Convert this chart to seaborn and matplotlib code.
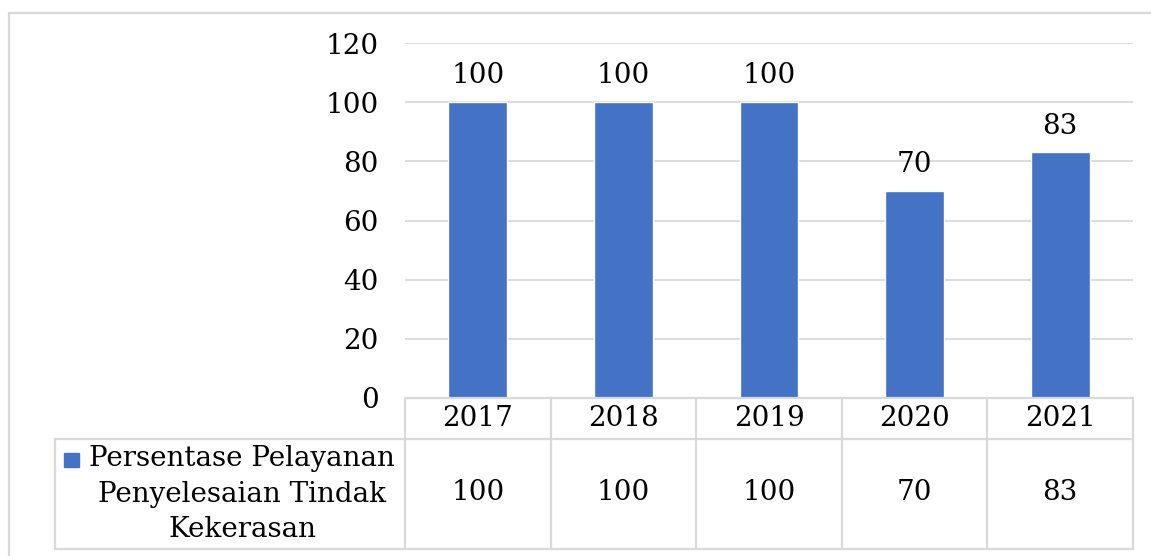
import matplotlib
matplotlib.use("Agg")
import matplotlib.pyplot as plt
from matplotlib.lines import Line2D
from matplotlib.patches import Rectangle
import seaborn as sns
import pandas as pd

years = ["2017", "2018", "2019", "2020", "2021"]
values = [100, 100, 100, 70, 83]
series_name = "Persentase Pelayanan\nPenyelesaian Tindak\nKekerasan"
y_ticks = [0, 20, 40, 60, 80, 100, 120]

BAR = "#4472C4"
GRID = "#D9D9D9"
FONT = "DejaVu Serif"
FS = 20
FS_LABEL = 20

sns.set_theme(style="white")
plt.rcParams["font.family"] = [FONT, "DejaVu Sans"]

W, H, DPI = 1151, 556, 100
fig = plt.figure(figsize=(W / DPI, H / DPI), dpi=DPI)

# plot area in pixel coordinates (from top-left)
px_l, px_r, px_t, px_b = 405, 1133, 43, 398
ax = fig.add_axes([px_l / W, 1 - px_b / H, (px_r - px_l) / W, (px_b - px_t) / H])

df = pd.DataFrame({"year": years, "value": values})
sns.barplot(data=df, x="year", y="value", color=BAR, width=0.405,
            saturation=1, ax=ax, zorder=3)

ax.set_ylim(0, 120)
ax.set_xlim(-0.5, len(years) - 0.5)
ax.set_yticks(y_ticks)
ax.set_yticklabels([str(t) for t in y_ticks], fontsize=FS, color="black")
ax.tick_params(axis="y", length=0, pad=19)
ax.set_xticks([])
ax.set_xlabel("")
ax.set_ylabel("")
for s in ax.spines.values():
    s.set_visible(False)
for t in y_ticks[1:]:
    ax.axhline(t, color=GRID, lw=1.3, zorder=1)

# value labels above bars
for i, v in enumerate(values):
    ax.annotate(str(v), (i, v), xytext=(0, 13.5), textcoords="offset points",
                ha="center", va="baseline", fontsize=FS, color="black")

# data table below the plot area
def fx(px):
    return px / W

def fy(py):
    return 1 - py / H

hdr_top, hdr_bot, row_bot = 398, 439, 549
lbl_left = 55
col_w = (px_r - px_l) / len(years)
lw = 1.6

def hline(x0, x1, y):
    fig.add_artist(Line2D([fx(x0), fx(x1)], [fy(y), fy(y)], color=GRID, lw=lw))

def vline(x, y0, y1):
    fig.add_artist(Line2D([fx(x), fx(x)], [fy(y0), fy(y1)], color=GRID, lw=lw))

hline(px_l, px_r, hdr_top)
hline(lbl_left, px_r, hdr_bot)
hline(lbl_left, px_r, row_bot)
vline(lbl_left, hdr_bot, row_bot)
for k in range(len(years) + 1):
    vline(px_l + k * col_w, hdr_top, row_bot)

for k, (yr, v) in enumerate(zip(years, values)):
    cx = px_l + (k + 0.5) * col_w
    fig.text(fx(cx), fy(418), yr, ha="center", va="center",
             fontsize=FS, color="black")
    fig.text(fx(cx), fy(493), str(v), ha="center", va="center",
             fontsize=FS, color="black")

fig.text(fx(242), fy(494), series_name, ha="center", va="center",
         fontsize=FS_LABEL, color="black", linespacing=1.4)
fig.add_artist(Rectangle((fx(64), fy(467)), 15 / W, 14 / H, color=BAR,
                         transform=fig.transFigure))

# outer chart frame (top and left edges)
fig.add_artist(Line2D([fx(9), fx(W)], [fy(13), fy(13)], color=GRID, lw=1.6))
fig.add_artist(Line2D([fx(9), fx(9)], [fy(13), fy(H)], color=GRID, lw=1.6))

fig.savefig("out.png", dpi=DPI)
